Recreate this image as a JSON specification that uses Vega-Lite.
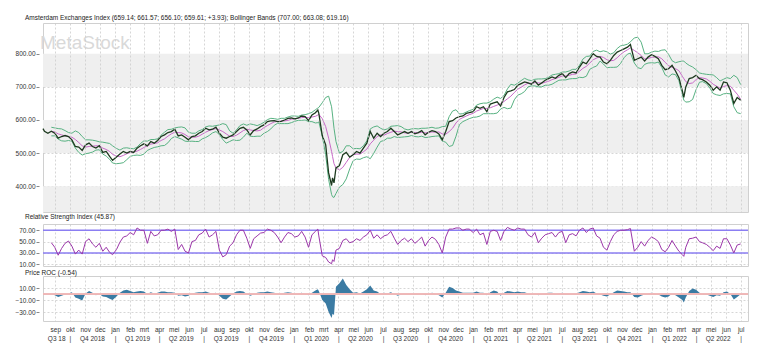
{
"$schema": "https://vega.github.io/schema/vega-lite/v6.json",
"padding": {"left": 14, "top": 14, "right": 21, "bottom": 4},
"background": "white",
"spacing": 0,
"config": {
  "font": "Liberation Sans",
  "view": {"stroke": "#d0d0d0", "strokeWidth": 1},
  "axis": {"labelFont": "Liberation Sans", "labelFontSize": 6.5, "labelColor": "#333333", "title": null, "domain": false, "tickColor": "#888888", "tickSize": 3, "gridColor": "#cccccc", "gridDash": [2, 2], "gridWidth": 0.8, "labelOverlap": false},
  "title": {"font": "Liberation Sans", "fontSize": 6.5, "fontWeight": "normal", "color": "#222222", "anchor": "start", "frame": "group", "dx": -18}
},
"resolve": {"scale": {"x": "shared"}},
"datasets": {
"bands": [{"y1": 300, "y2": 400}, {"y1": 500, "y2": 600}, {"y1": 700, "y2": 800}],
"s": [
{"d":"2018-08-07","c":574},
{"d":"2018-08-10","c":566},
{"d":"2018-08-17","c":560},
{"d":"2018-08-24","c":566,"u":578,"m":565,"l":552,"r":48,"p":1},
{"d":"2018-08-31","c":560,"u":576,"m":564,"l":552,"r":40,"p":-2},
{"d":"2018-09-07","c":545,"u":574,"m":558,"l":542,"r":26,"p":-5},
{"d":"2018-09-14","c":550,"u":573,"m":555,"l":537,"r":38,"p":-3},
{"d":"2018-09-21","c":553,"u":568,"m":552,"l":536,"r":47,"p":-1},
{"d":"2018-09-28","c":550,"u":562,"m":550,"l":538,"r":51,"p":1},
{"d":"2018-10-05","c":540,"u":560,"m":548,"l":536,"r":42,"p":3},
{"d":"2018-10-12","c":520,"u":567,"m":541,"l":515,"r":28,"p":-6},
{"d":"2018-10-19","c":518,"u":562,"m":532,"l":502,"r":35,"p":-8},
{"d":"2018-10-26","c":508,"u":550,"m":522,"l":494,"r":28,"p":-11},
{"d":"2018-11-02","c":525,"u":540,"m":518,"l":498,"r":50,"p":1},
{"d":"2018-11-09","c":530,"u":540,"m":520,"l":500,"r":55,"p":5},
{"d":"2018-11-16","c":520,"u":539,"m":521,"l":503,"r":46,"p":2},
{"d":"2018-11-23","c":515,"u":537,"m":522,"l":509,"r":40,"p":-2},
{"d":"2018-11-30","c":522,"u":534,"m":522,"l":510,"r":47,"p":0},
{"d":"2018-12-07","c":502,"u":533,"m":515,"l":497,"r":33,"p":-4},
{"d":"2018-12-14","c":505,"u":531,"m":511,"l":491,"r":40,"p":-5},
{"d":"2018-12-21","c":490,"u":529,"m":505,"l":481,"r":31,"p":-8},
{"d":"2018-12-27","c":478,"u":522,"m":496,"l":470,"r":27,"p":-10},
{"d":"2019-01-04","c":488,"u":514,"m":491,"l":468,"r":36,"p":-4},
{"d":"2019-01-11","c":497,"u":509,"m":489,"l":469,"r":49,"p":2},
{"d":"2019-01-18","c":505,"u":515,"m":493,"l":471,"r":58,"p":6},
{"d":"2019-01-25","c":500,"u":516,"m":498,"l":480,"r":60,"p":7},
{"d":"2019-02-01","c":505,"u":514,"m":502,"l":490,"r":66,"p":5},
{"d":"2019-02-08","c":502,"u":513,"m":503,"l":493,"r":62,"p":3},
{"d":"2019-02-15","c":515,"u":518,"m":506,"l":494,"r":74,"p":4},
{"d":"2019-02-22","c":522,"u":529,"m":511,"l":493,"r":70,"p":5},
{"d":"2019-03-01","c":528,"u":537,"m":517,"l":497,"r":70,"p":4},
{"d":"2019-03-08","c":522,"u":536,"m":522,"l":508,"r":47,"p":0},
{"d":"2019-03-15","c":535,"u":541,"m":527,"l":513,"r":68,"p":3},
{"d":"2019-03-22","c":530,"u":541,"m":529,"l":517,"r":60,"p":1},
{"d":"2019-03-29","c":538,"u":543,"m":531,"l":519,"r":62,"p":2},
{"d":"2019-04-05","c":550,"u":554,"m":538,"l":522,"r":70,"p":4},
{"d":"2019-04-12","c":555,"u":563,"m":543,"l":523,"r":70,"p":4},
{"d":"2019-04-19","c":562,"u":571,"m":551,"l":531,"r":72,"p":3},
{"d":"2019-04-26","c":565,"u":572,"m":558,"l":544,"r":68,"p":3},
{"d":"2019-05-03","c":572,"u":576,"m":563,"l":550,"r":72,"p":2},
{"d":"2019-05-10","c":552,"u":578,"m":562,"l":546,"r":36,"p":-3},
{"d":"2019-05-17","c":555,"u":579,"m":561,"l":542,"r":45,"p":-2},
{"d":"2019-05-24","c":548,"u":576,"m":556,"l":536,"r":33,"p":-4},
{"d":"2019-05-31","c":540,"u":563,"m":549,"l":535,"r":30,"p":-3},
{"d":"2019-06-07","c":550,"u":560,"m":548,"l":536,"r":50,"p":1},
{"d":"2019-06-14","c":552,"u":560,"m":548,"l":535,"r":52,"p":2},
{"d":"2019-06-21","c":560,"u":567,"m":551,"l":535,"r":62,"p":3},
{"d":"2019-06-28","c":565,"u":571,"m":557,"l":543,"r":65,"p":3},
{"d":"2019-07-05","c":575,"u":579,"m":563,"l":547,"r":72,"p":4},
{"d":"2019-07-12","c":570,"u":582,"m":568,"l":553,"r":58,"p":2},
{"d":"2019-07-19","c":572,"u":581,"m":571,"l":561,"r":62,"p":1},
{"d":"2019-07-26","c":578,"u":583,"m":574,"l":565,"r":68,"p":2},
{"d":"2019-08-02","c":560,"u":585,"m":570,"l":556,"r":35,"p":-3},
{"d":"2019-08-09","c":548,"u":589,"m":565,"l":541,"r":23,"p":-8},
{"d":"2019-08-16","c":545,"u":586,"m":558,"l":530,"r":27,"p":-9},
{"d":"2019-08-23","c":550,"u":567,"m":551,"l":535,"r":42,"p":-4},
{"d":"2019-08-30","c":555,"u":560,"m":550,"l":540,"r":48,"p":1},
{"d":"2019-09-06","c":565,"u":570,"m":554,"l":538,"r":62,"p":4},
{"d":"2019-09-13","c":575,"u":583,"m":561,"l":539,"r":70,"p":5},
{"d":"2019-09-20","c":578,"u":588,"m":568,"l":548,"r":70,"p":4},
{"d":"2019-09-27","c":570,"u":584,"m":572,"l":560,"r":56,"p":0},
{"d":"2019-10-04","c":555,"u":588,"m":570,"l":551,"r":38,"p":-3},
{"d":"2019-10-11","c":568,"u":586,"m":568,"l":550,"r":55,"p":-1},
{"d":"2019-10-18","c":573,"u":583,"m":567,"l":551,"r":60,"p":2},
{"d":"2019-10-25","c":580,"u":587,"m":569,"l":551,"r":65,"p":3},
{"d":"2019-11-01","c":585,"u":593,"m":577,"l":560,"r":66,"p":3},
{"d":"2019-11-08","c":595,"u":601,"m":583,"l":565,"r":72,"p":4},
{"d":"2019-11-15","c":597,"u":605,"m":589,"l":573,"r":70,"p":3},
{"d":"2019-11-22","c":598,"u":604,"m":594,"l":584,"r":66,"p":2},
{"d":"2019-11-29","c":595,"u":602,"m":596,"l":590,"r":58,"p":0},
{"d":"2019-12-06","c":596,"u":605,"m":597,"l":589,"r":48,"p":1},
{"d":"2019-12-13","c":600,"u":605,"m":597,"l":589,"r":58,"p":2},
{"d":"2019-12-20","c":605,"u":609,"m":599,"l":589,"r":66,"p":3},
{"d":"2019-12-27","c":606,"u":612,"m":602,"l":592,"r":64,"p":2},
{"d":"2020-01-03","c":603,"u":612,"m":604,"l":596,"r":58,"p":1},
{"d":"2020-01-10","c":606,"u":611,"m":605,"l":599,"r":60,"p":1},
{"d":"2020-01-17","c":612,"u":615,"m":607,"l":599,"r":68,"p":2},
{"d":"2020-01-24","c":610,"u":616,"m":608,"l":600,"r":58,"p":0},
{"d":"2020-01-31","c":598,"u":619,"m":607,"l":595,"r":40,"p":-2},
{"d":"2020-02-07","c":615,"u":623,"m":609,"l":595,"r":62,"p":2},
{"d":"2020-02-14","c":622,"u":631,"m":611,"l":591,"r":68,"p":6},
{"d":"2020-02-19","c":630,"u":636,"m":615,"l":592,"r":72,"p":8},
{"d":"2020-02-21","c":620,"u":638,"m":617,"l":594,"r":60,"p":5},
{"d":"2020-02-28","c":553,"u":652,"m":604,"l":552,"r":25,"p":-10},
{"d":"2020-03-06","c":525,"u":668,"m":580,"l":495,"r":22,"p":-16},
{"d":"2020-03-12","c":440,"u":672,"m":545,"l":420,"r":14,"p":-30},
{"d":"2020-03-18","c":402,"u":640,"m":505,"l":375,"r":11,"p":-40},
{"d":"2020-03-20","c":425,"u":615,"m":490,"l":368,"r":18,"p":-33},
{"d":"2020-03-23","c":410,"u":575,"m":468,"l":366,"r":15,"p":-35},
{"d":"2020-03-27","c":455,"u":535,"m":455,"l":378,"r":35,"p":12},
{"d":"2020-04-03","c":462,"u":500,"m":449,"l":397,"r":38,"p":18},
{"d":"2020-04-10","c":495,"u":505,"m":457,"l":405,"r":52,"p":26},
{"d":"2020-04-17","c":502,"u":522,"m":472,"l":422,"r":55,"p":15},
{"d":"2020-04-24","c":488,"u":522,"m":487,"l":452,"r":48,"p":8},
{"d":"2020-05-01","c":495,"u":513,"m":495,"l":477,"r":50,"p":2},
{"d":"2020-05-08","c":505,"u":514,"m":497,"l":482,"r":55,"p":3},
{"d":"2020-05-15","c":500,"u":513,"m":497,"l":481,"r":52,"p":1},
{"d":"2020-05-22","c":515,"u":522,"m":504,"l":486,"r":58,"p":4},
{"d":"2020-05-29","c":530,"u":537,"m":512,"l":489,"r":62,"p":8},
{"d":"2020-06-05","c":565,"u":573,"m":528,"l":483,"r":70,"p":14},
{"d":"2020-06-12","c":545,"u":579,"m":539,"l":499,"r":56,"p":6},
{"d":"2020-06-19","c":560,"u":582,"m":550,"l":518,"r":62,"p":4},
{"d":"2020-06-26","c":550,"u":575,"m":555,"l":535,"r":55,"p":0},
{"d":"2020-07-03","c":560,"u":570,"m":554,"l":538,"r":60,"p":2},
{"d":"2020-07-10","c":565,"u":573,"m":559,"l":545,"r":62,"p":1},
{"d":"2020-07-17","c":575,"u":581,"m":563,"l":545,"r":68,"p":3},
{"d":"2020-07-24","c":565,"u":582,"m":566,"l":550,"r":56,"p":0},
{"d":"2020-07-31","c":555,"u":583,"m":565,"l":547,"r":45,"p":-3},
{"d":"2020-08-07","c":560,"u":580,"m":564,"l":548,"r":52,"p":-1},
{"d":"2020-08-14","c":565,"u":573,"m":561,"l":549,"r":56,"p":1},
{"d":"2020-08-21","c":560,"u":570,"m":560,"l":550,"r":50,"p":0},
{"d":"2020-08-28","c":565,"u":573,"m":563,"l":553,"r":55,"p":1},
{"d":"2020-09-04","c":558,"u":574,"m":562,"l":550,"r":47,"p":-1},
{"d":"2020-09-11","c":562,"u":573,"m":561,"l":549,"r":52,"p":0},
{"d":"2020-09-18","c":568,"u":575,"m":563,"l":551,"r":58,"p":1},
{"d":"2020-09-25","c":555,"u":575,"m":561,"l":547,"r":42,"p":-2},
{"d":"2020-10-02","c":563,"u":576,"m":562,"l":548,"r":52,"p":0},
{"d":"2020-10-09","c":568,"u":578,"m":564,"l":550,"r":58,"p":2},
{"d":"2020-10-16","c":565,"u":575,"m":563,"l":551,"r":54,"p":1},
{"d":"2020-10-23","c":558,"u":576,"m":564,"l":552,"r":45,"p":-2},
{"d":"2020-10-30","c":540,"u":580,"m":558,"l":536,"r":30,"p":-6},
{"d":"2020-11-06","c":565,"u":581,"m":557,"l":533,"r":58,"p":2},
{"d":"2020-11-13","c":595,"u":610,"m":565,"l":520,"r":72,"p":12},
{"d":"2020-11-20","c":598,"u":627,"m":575,"l":523,"r":72,"p":10},
{"d":"2020-11-27","c":606,"u":631,"m":591,"l":551,"r":74,"p":6},
{"d":"2020-12-04","c":610,"u":618,"m":602,"l":586,"r":74,"p":4},
{"d":"2020-12-11","c":612,"u":619,"m":607,"l":595,"r":70,"p":2},
{"d":"2020-12-18","c":620,"u":624,"m":612,"l":600,"r":72,"p":2},
{"d":"2020-12-24","c":622,"u":628,"m":616,"l":604,"r":72,"p":2},
{"d":"2021-01-01","c":625,"u":632,"m":620,"l":608,"r":66,"p":2},
{"d":"2021-01-08","c":640,"u":645,"m":627,"l":609,"r":72,"p":4},
{"d":"2021-01-15","c":635,"u":649,"m":631,"l":612,"r":62,"p":2},
{"d":"2021-01-22","c":640,"u":651,"m":635,"l":619,"r":65,"p":2},
{"d":"2021-01-29","c":625,"u":651,"m":635,"l":619,"r":45,"p":-2},
{"d":"2021-02-05","c":648,"u":655,"m":637,"l":619,"r":68,"p":3},
{"d":"2021-02-12","c":652,"u":663,"m":641,"l":619,"r":70,"p":6},
{"d":"2021-02-19","c":655,"u":669,"m":645,"l":621,"r":68,"p":4},
{"d":"2021-02-26","c":642,"u":665,"m":649,"l":633,"r":52,"p":-3},
{"d":"2021-03-05","c":668,"u":674,"m":656,"l":638,"r":68,"p":2},
{"d":"2021-03-12","c":685,"u":694,"m":664,"l":634,"r":75,"p":5},
{"d":"2021-03-19","c":688,"u":708,"m":672,"l":636,"r":72,"p":4},
{"d":"2021-03-26","c":692,"u":705,"m":683,"l":661,"r":70,"p":3},
{"d":"2021-04-02","c":705,"u":711,"m":693,"l":675,"r":74,"p":4},
{"d":"2021-04-09","c":710,"u":719,"m":699,"l":679,"r":72,"p":3},
{"d":"2021-04-16","c":715,"u":726,"m":706,"l":686,"r":72,"p":3},
{"d":"2021-04-23","c":712,"u":721,"m":711,"l":700,"r":62,"p":1},
{"d":"2021-04-30","c":708,"u":719,"m":711,"l":703,"r":58,"p":-1},
{"d":"2021-05-07","c":718,"u":723,"m":713,"l":703,"r":66,"p":1},
{"d":"2021-05-14","c":705,"u":724,"m":712,"l":700,"r":48,"p":-2},
{"d":"2021-05-21","c":712,"u":724,"m":711,"l":700,"r":56,"p":0},
{"d":"2021-05-28","c":720,"u":725,"m":714,"l":705,"r":62,"p":1},
{"d":"2021-06-04","c":725,"u":729,"m":717,"l":705,"r":64,"p":2},
{"d":"2021-06-11","c":730,"u":736,"m":722,"l":708,"r":66,"p":2},
{"d":"2021-06-18","c":726,"u":738,"m":725,"l":714,"r":58,"p":1},
{"d":"2021-06-25","c":735,"u":740,"m":729,"l":720,"r":66,"p":1},
{"d":"2021-07-02","c":740,"u":745,"m":733,"l":721,"r":68,"p":2},
{"d":"2021-07-09","c":728,"u":745,"m":733,"l":721,"r":48,"p":-1},
{"d":"2021-07-16","c":740,"u":748,"m":735,"l":724,"r":62,"p":0},
{"d":"2021-07-23","c":745,"u":753,"m":738,"l":725,"r":64,"p":1},
{"d":"2021-07-30","c":742,"u":753,"m":739,"l":725,"r":60,"p":1},
{"d":"2021-08-06","c":760,"u":765,"m":747,"l":729,"r":70,"p":3},
{"d":"2021-08-13","c":775,"u":784,"m":756,"l":728,"r":74,"p":5},
{"d":"2021-08-20","c":770,"u":792,"m":762,"l":732,"r":66,"p":4},
{"d":"2021-08-27","c":785,"u":793,"m":772,"l":753,"r":72,"p":3},
{"d":"2021-09-03","c":800,"u":807,"m":782,"l":759,"r":74,"p":4},
{"d":"2021-09-10","c":792,"u":811,"m":787,"l":763,"r":60,"p":1},
{"d":"2021-09-17","c":790,"u":806,"m":792,"l":778,"r":56,"p":-1},
{"d":"2021-09-24","c":775,"u":809,"m":789,"l":769,"r":40,"p":-3},
{"d":"2021-10-01","c":770,"u":806,"m":782,"l":758,"r":35,"p":-4},
{"d":"2021-10-08","c":780,"u":799,"m":779,"l":759,"r":50,"p":-1},
{"d":"2021-10-15","c":795,"u":803,"m":780,"l":759,"r":62,"p":3},
{"d":"2021-10-22","c":805,"u":816,"m":788,"l":760,"r":68,"p":6},
{"d":"2021-10-29","c":810,"u":824,"m":798,"l":771,"r":70,"p":5},
{"d":"2021-11-05","c":815,"u":826,"m":806,"l":788,"r":70,"p":4},
{"d":"2021-11-12","c":820,"u":829,"m":812,"l":799,"r":71,"p":3},
{"d":"2021-11-18","c":828,"u":836,"m":818,"l":802,"r":73,"p":3},
{"d":"2021-11-26","c":780,"u":848,"m":810,"l":772,"r":33,"p":-5},
{"d":"2021-12-03","c":785,"u":850,"m":803,"l":758,"r":40,"p":-6},
{"d":"2021-12-10","c":790,"u":835,"m":795,"l":755,"r":50,"p":-3},
{"d":"2021-12-17","c":778,"u":800,"m":784,"l":768,"r":42,"p":-1},
{"d":"2021-12-24","c":790,"u":800,"m":786,"l":772,"r":52,"p":1},
{"d":"2021-12-31","c":797,"u":805,"m":789,"l":773,"r":58,"p":2},
{"d":"2022-01-07","c":792,"u":808,"m":790,"l":772,"r":55,"p":1},
{"d":"2022-01-14","c":785,"u":807,"m":791,"l":775,"r":50,"p":-1},
{"d":"2022-01-21","c":765,"u":811,"m":785,"l":759,"r":36,"p":-4},
{"d":"2022-01-28","c":752,"u":812,"m":774,"l":736,"r":32,"p":-6},
{"d":"2022-02-04","c":755,"u":798,"m":764,"l":730,"r":40,"p":-4},
{"d":"2022-02-11","c":765,"u":779,"m":759,"l":739,"r":52,"p":1},
{"d":"2022-02-18","c":748,"u":773,"m":755,"l":737,"r":42,"p":-2},
{"d":"2022-02-25","c":728,"u":776,"m":749,"l":719,"r":33,"p":-6},
{"d":"2022-03-04","c":688,"u":778,"m":732,"l":677,"r":27,"p":-10},
{"d":"2022-03-07","c":668,"u":778,"m":725,"l":660,"r":24,"p":-14},
{"d":"2022-03-11","c":700,"u":772,"m":716,"l":654,"r":40,"p":-6},
{"d":"2022-03-18","c":725,"u":765,"m":710,"l":655,"r":55,"p":5},
{"d":"2022-03-25","c":728,"u":760,"m":712,"l":662,"r":56,"p":9},
{"d":"2022-04-01","c":735,"u":752,"m":722,"l":692,"r":58,"p":7},
{"d":"2022-04-08","c":725,"u":742,"m":728,"l":714,"r":50,"p":2},
{"d":"2022-04-14","c":722,"u":740,"m":727,"l":716,"r":48,"p":0},
{"d":"2022-04-22","c":715,"u":738,"m":724,"l":710,"r":45,"p":-1},
{"d":"2022-04-29","c":705,"u":737,"m":717,"l":697,"r":40,"p":-3},
{"d":"2022-05-06","c":690,"u":736,"m":708,"l":680,"r":34,"p":-5},
{"d":"2022-05-13","c":700,"u":728,"m":702,"l":676,"r":42,"p":-2},
{"d":"2022-05-20","c":690,"u":718,"m":696,"l":674,"r":38,"p":-3},
{"d":"2022-05-27","c":715,"u":723,"m":701,"l":679,"r":55,"p":3},
{"d":"2022-06-03","c":712,"u":728,"m":704,"l":680,"r":55,"p":4},
{"d":"2022-06-10","c":690,"u":725,"m":702,"l":679,"r":44,"p":0},
{"d":"2022-06-17","c":650,"u":735,"m":690,"l":640,"r":30,"p":-9},
{"d":"2022-06-24","c":668,"u":728,"m":678,"l":622,"r":44,"p":-5},
{"d":"2022-07-01","c":659.61,"u":707,"m":663.08,"l":619.16,"r":45.87,"p":-0.54}
]
},
"vconcat": [
{
  "title": {"text": "Amsterdam Exchanges Index (659.14; 661.57; 656.10; 659.61; +3.93); Bollinger Bands (707.00; 663.08; 619.16)", "offset": 2},
  "width": 705,
  "height": 189,
  "data": {"name": "s"},
  "layer": [
    {"data": {"name": "bands"}, "mark": {"type": "rect", "color": "#efefef", "clip": true},
     "encoding": {"y": {"field": "y1", "type": "quantitative", "scale": {"domain": [322, 893], "nice": false, "zero": false}, "axis": {"values": [400, 500, 600, 700, 800], "format": ".2f", "offset": 4, "labelPadding": 1, "labelOverlap": false, "labelBound": false}}, "y2": {"field": "y2"}}},
    {"data": {"values": [{"t": "MetaStock"}]}, "mark": {"type": "text", "fontSize": 19, "color": "#d9d9d9", "align": "left", "baseline": "alphabetic", "dx": -3, "font": "Liberation Sans"},
     "encoding": {"x": {"datum": {"year": 2018, "month": 8, "date": 7}, "type": "temporal", "scale": {"domain": [{"year": 2018, "month": 8, "date": 7}, {"year": 2022, "month": 7, "date": 16}]}}, "y": {"datum": 815, "type": "quantitative", "scale": {"domain": [322, 893], "nice": false, "zero": false}}, "text": {"field": "t"}}},
    {"mark": {"type": "line", "color": "#58b282", "strokeWidth": 1},
     "encoding": {"x": {"field": "d", "type": "temporal", "scale": {"domain": [{"year": 2018, "month": 8, "date": 7}, {"year": 2022, "month": 7, "date": 16}]}, "axis": {"grid": true, "labels": false, "ticks": false, "domain": false, "tickCount": {"interval": "month"}, "zindex": 1}}, "y": {"field": "u", "type": "quantitative", "scale": {"domain": [322, 893], "nice": false, "zero": false}}}},
    {"mark": {"type": "line", "color": "#58b282", "strokeWidth": 1},
     "encoding": {"x": {"field": "d", "type": "temporal"}, "y": {"field": "l", "type": "quantitative"}}},
    {"mark": {"type": "line", "color": "#c86ac8", "strokeWidth": 1},
     "encoding": {"x": {"field": "d", "type": "temporal"}, "y": {"field": "m", "type": "quantitative"}}},
    {"mark": {"type": "line", "color": "#1d3a1f", "strokeWidth": 1.3},
     "encoding": {"x": {"field": "d", "type": "temporal"}, "y": {"field": "c", "type": "quantitative"}}}
  ]
},
{
  "title": {"text": "Relative Strength Index (45.87)", "offset": 3.5},
  "width": 705,
  "height": 42,
  "data": {"name": "s"},
  "layer": [
    {"data": {"values": [{"v": 70}, {"v": 30}]}, "mark": {"type": "rule", "color": "#8b7ef2", "strokeWidth": 1.4},
     "encoding": {"y": {"field": "v", "type": "quantitative", "scale": {"domain": [7, 81], "nice": false, "zero": false}, "axis": {"values": [10, 30, 50, 70], "format": ".2f", "offset": 4, "labelPadding": 1, "labelOverlap": false, "labelSeparation": -20, "labelBound": false}}}},
    {"mark": {"type": "line", "color": "#9b36a9", "strokeWidth": 1},
     "encoding": {"x": {"field": "d", "type": "temporal", "scale": {"domain": [{"year": 2018, "month": 8, "date": 7}, {"year": 2022, "month": 7, "date": 16}]}, "axis": {"grid": true, "labels": false, "ticks": false, "domain": false, "tickCount": {"interval": "month"}}}, "y": {"field": "r", "type": "quantitative", "axis": {"values": [10, 30, 50, 70], "format": ".2f", "offset": 4, "labelPadding": 1, "labelOverlap": false, "labelSeparation": -20, "labelBound": false}}}}
  ]
},
{
  "title": {"text": "Price ROC (-0.54)", "offset": 0},
  "width": 705,
  "height": 45,
  "data": {"name": "s"},
  "layer": [
    {"mark": {"type": "area", "color": "#3b7ba3"},
     "encoding": {"x": {"field": "d", "type": "temporal", "scale": {"domain": [{"year": 2018, "month": 8, "date": 7}, {"year": 2022, "month": 7, "date": 16}]},
        "axis": {"grid": true, "ticks": false, "domain": false, "labelOverlap": false, "labelBound": false, "labelFlush": false, "labelPadding": 5, "labelLineHeight": 9, "labelAlign": "center", "labelBaseline": "top",
          "gridOpacity": {"condition": {"test": "date(datum.value) == 1", "value": 1}, "value": 0},
          "labelExpr": "date(datum.value) == 1 ? (month(datum.value) % 3 == 0 ? [['jan','feb','mrt','apr','mei','jun','jul','aug','sep','okt','nov','dec'][month(datum.value)], '|'] : ['jan','feb','mrt','apr','mei','jun','jul','aug','sep','okt','nov','dec'][month(datum.value)]) : [' ', (year(datum.value) == 2018 && month(datum.value) == 8) ? 'Q3 18' : 'Q' + (floor(month(datum.value) / 3) + 1) + ' ' + year(datum.value)]",
          "values": [
            {"year": 2018, "month": 9, "date": 1}, {"year": 2018, "month": 10, "date": 1}, {"year": 2018, "month": 11, "date": 1}, {"year": 2018, "month": 12, "date": 1},
            {"year": 2019, "month": 1, "date": 1}, {"year": 2019, "month": 2, "date": 1}, {"year": 2019, "month": 3, "date": 1}, {"year": 2019, "month": 4, "date": 1}, {"year": 2019, "month": 5, "date": 1}, {"year": 2019, "month": 6, "date": 1}, {"year": 2019, "month": 7, "date": 1}, {"year": 2019, "month": 8, "date": 1}, {"year": 2019, "month": 9, "date": 1}, {"year": 2019, "month": 10, "date": 1}, {"year": 2019, "month": 11, "date": 1}, {"year": 2019, "month": 12, "date": 1},
            {"year": 2020, "month": 1, "date": 1}, {"year": 2020, "month": 2, "date": 1}, {"year": 2020, "month": 3, "date": 1}, {"year": 2020, "month": 4, "date": 1}, {"year": 2020, "month": 5, "date": 1}, {"year": 2020, "month": 6, "date": 1}, {"year": 2020, "month": 7, "date": 1}, {"year": 2020, "month": 8, "date": 1}, {"year": 2020, "month": 9, "date": 1}, {"year": 2020, "month": 10, "date": 1}, {"year": 2020, "month": 11, "date": 1}, {"year": 2020, "month": 12, "date": 1},
            {"year": 2021, "month": 1, "date": 1}, {"year": 2021, "month": 2, "date": 1}, {"year": 2021, "month": 3, "date": 1}, {"year": 2021, "month": 4, "date": 1}, {"year": 2021, "month": 5, "date": 1}, {"year": 2021, "month": 6, "date": 1}, {"year": 2021, "month": 7, "date": 1}, {"year": 2021, "month": 8, "date": 1}, {"year": 2021, "month": 9, "date": 1}, {"year": 2021, "month": 10, "date": 1}, {"year": 2021, "month": 11, "date": 1}, {"year": 2021, "month": 12, "date": 1},
            {"year": 2022, "month": 1, "date": 1}, {"year": 2022, "month": 2, "date": 1}, {"year": 2022, "month": 3, "date": 1}, {"year": 2022, "month": 4, "date": 1}, {"year": 2022, "month": 5, "date": 1}, {"year": 2022, "month": 6, "date": 1}, {"year": 2022, "month": 7, "date": 1},
            {"year": 2018, "month": 9, "date": 3}, {"year": 2018, "month": 11, "date": 15},
            {"year": 2019, "month": 2, "date": 15}, {"year": 2019, "month": 5, "date": 15}, {"year": 2019, "month": 8, "date": 15}, {"year": 2019, "month": 11, "date": 15},
            {"year": 2020, "month": 2, "date": 15}, {"year": 2020, "month": 5, "date": 15}, {"year": 2020, "month": 8, "date": 15}, {"year": 2020, "month": 11, "date": 15},
            {"year": 2021, "month": 2, "date": 15}, {"year": 2021, "month": 5, "date": 15}, {"year": 2021, "month": 8, "date": 15}, {"year": 2021, "month": 11, "date": 15},
            {"year": 2022, "month": 2, "date": 15}, {"year": 2022, "month": 5, "date": 15}
          ]}},
      "y": {"field": "p", "type": "quantitative", "scale": {"domain": [-45, 30], "nice": false, "zero": false}, "axis": {"values": [10, -10, -30], "format": ".2f", "offset": 4, "labelPadding": 1, "labelOverlap": false, "labelSeparation": -20, "labelBound": false}},
      "y2": {"datum": 0}}},
    {"mark": {"type": "rule", "color": "#efb8b8", "strokeWidth": 0.8},
     "encoding": {"y": {"datum": 0, "type": "quantitative", "axis": {"values": [10, -10, -30], "format": ".2f", "offset": 4, "labelPadding": 1, "labelOverlap": false, "labelSeparation": -20, "labelBound": false}}}}
  ]
}
]
}
